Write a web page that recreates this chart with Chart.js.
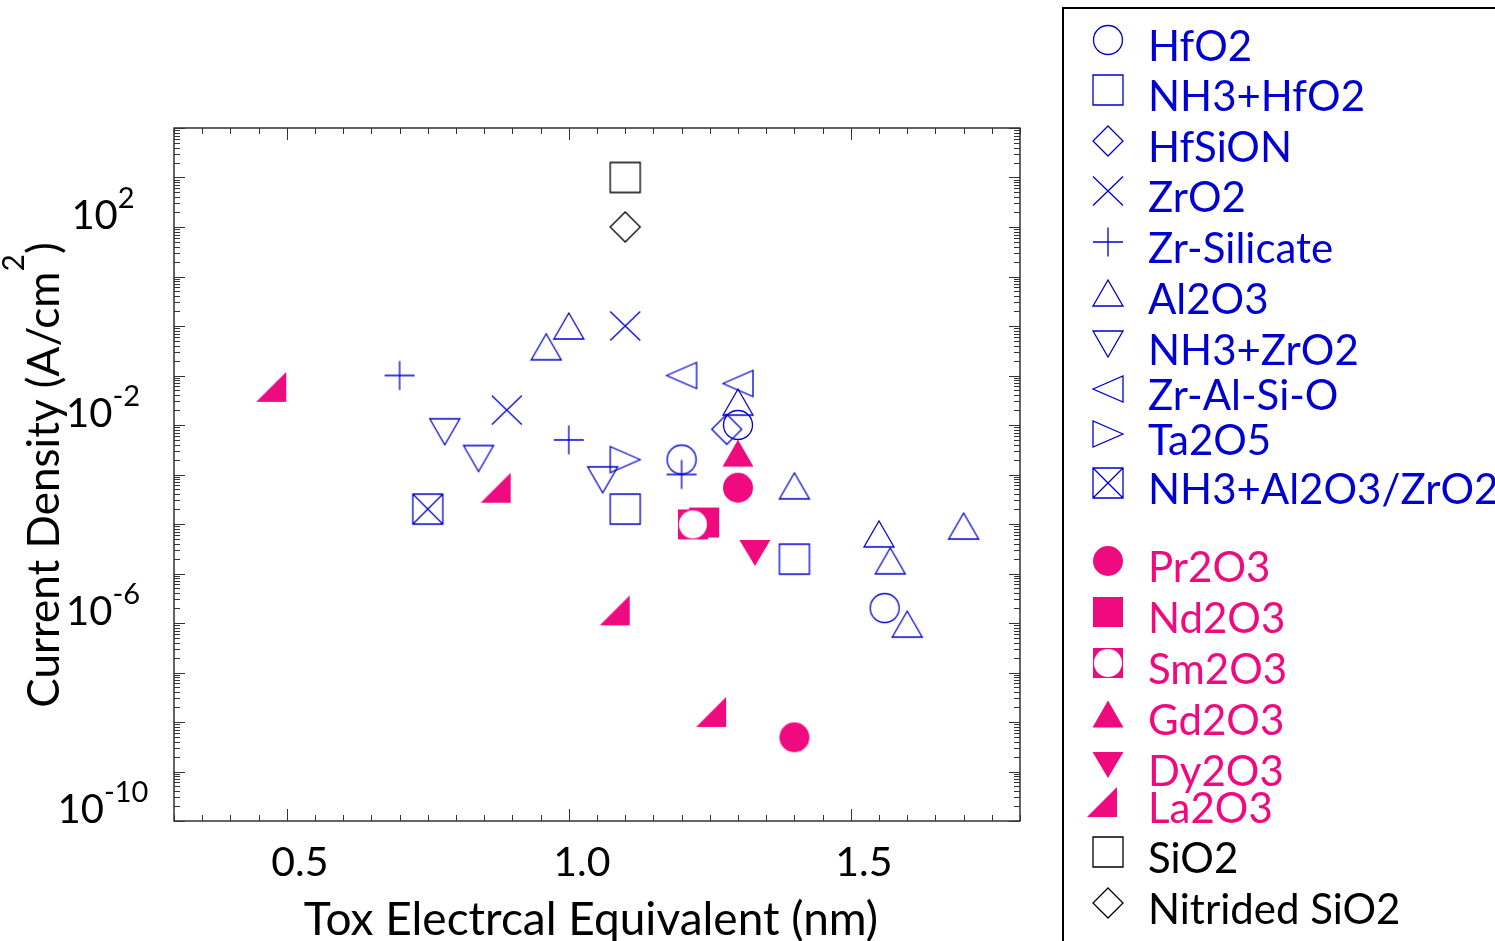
<!DOCTYPE html>
<html>
<head>
<meta charset="utf-8">
<title>Current density vs Tox</title>
<script src="https://cdn.jsdelivr.net/npm/chart.js@4.4.1/dist/chart.umd.min.js"></script>
<style>
  html, body { margin: 0; padding: 0; background: #fff; }
  #wrap { position: relative; width: 1495px; height: 941px; }
</style>
</head>
<body>
<div id="wrap"><canvas id="leakChart" width="1495" height="941"></canvas></div>
<script>
/* ---- data: x = Tox (nm), y = current density (A/cm2) ---- */
var hfo2X = [1.20, 1.30, 1.56];
var hfo2Y = [2.0e-3, 1.0e-2, 2.0e-6];
var nh3Hfo2X = [1.10, 1.40];
var nh3Hfo2Y = [2.0e-4, 1.95e-5];
var hfsionX = [1.28];
var hfsionY = [8.2e-3];
var zro2X = [0.89, 1.10];
var zro2Y = [2.0e-2, 1.0];
var zrSilX = [0.70, 1.00, 1.20];
var zrSilY = [0.1, 5.0e-3, 1.0e-3];
var al2o3X = [0.96, 1.00, 1.30, 1.40, 1.55, 1.57, 1.60, 1.70];
var al2o3Y = [0.38, 1.0, 2.9e-2, 5.9e-4, 6.3e-5, 1.8e-5, 9.5e-7, 9.1e-5];
var nh3Zro2X = [0.78, 0.84, 1.06];
var nh3Zro2Y = [7.3e-3, 2.1e-3, 7.8e-4];
var zrAlSiOX = [1.20, 1.30];
var zrAlSiOY = [0.1, 6.9e-2];
var ta2o5X = [1.10];
var ta2o5Y = [2.0e-3];
var nh3AlZrX = [0.75];
var nh3AlZrY = [2.0e-4];
var pr2o3X = [1.30, 1.40];
var pr2o3Y = [5.4e-4, 4.9e-9];
var nd2o3X = [1.24];
var nd2o3Y = [1.07e-4];
var sm2o3X = [1.22];
var sm2o3Y = [9.8e-5];
var gd2o3X = [1.30];
var gd2o3Y = [2.7e-3];
var dy2o3X = [1.33];
var dy2o3Y = [2.6e-5];
var la2o3X = [0.483, 0.881, 1.092, 1.263];
var la2o3Y = [5.9e-2, 5.4e-4, 1.8e-6, 1.6e-8];
var sio2X = [1.10];
var sio2Y = [1000];
var nsio2X = [1.10];
var nsio2Y = [100];

// axis ticks
var xMajorTicks = [0.5, 1.0, 1.5];
var xTickLabels = ['0.5', '1.0', '1.5'];
var yLabelExponents = [2, -2, -6, -10];

var BLUE = '#0000d0';
var PINK = '#f00a80';
var BLACK = '#000000';
var FONT = 'Lato, "Noto Sans", sans-serif';

// marker canvases, shape centred on the data point
function makeMarker(kind, color) {
    var c = document.createElement('canvas');
    c.width = 44; c.height = 44;
    var g = c.getContext('2d');
    g.translate(22, 22);
    g.strokeStyle = color;
    g.fillStyle = color;
    g.lineWidth = 1.3;
    g.lineJoin = 'miter';
    g.beginPath();
    switch (kind) {
        case 'circle': g.arc(0, 0, 14.5, 0, Math.PI * 2); g.stroke(); break;
        case 'dot': g.arc(0, 0, 15, 0, Math.PI * 2); g.fill(); break;
        case 'square': g.rect(-15, -15, 30, 30); g.stroke(); break;
        case 'block': g.rect(-15, -15, 30, 30); g.fill(); break;
        case 'diamond':
            g.moveTo(0, -15); g.lineTo(15, 0); g.lineTo(0, 15); g.lineTo(-15, 0); g.closePath(); g.stroke(); break;
        case 'cross':
            g.moveTo(-15, -14.5); g.lineTo(15, 14.5); g.moveTo(15, -14.5); g.lineTo(-15, 14.5); g.stroke(); break;
        case 'plus':
            g.moveTo(-15, 0); g.lineTo(15, 0); g.moveTo(0, -14.5); g.lineTo(0, 14.5); g.stroke(); break;
        case 'up':
            g.moveTo(0, -13); g.lineTo(15, 13); g.lineTo(-15, 13); g.closePath(); g.stroke(); break;
        case 'upFill':
            g.moveTo(0, -13.5); g.lineTo(15.5, 13.5); g.lineTo(-15.5, 13.5); g.closePath(); g.fill(); break;
        case 'down':
            g.moveTo(-15, -13); g.lineTo(15, -13); g.lineTo(0, 13); g.closePath(); g.stroke(); break;
        case 'downFill':
            g.moveTo(-15.5, -13); g.lineTo(15.5, -13); g.lineTo(0, 13); g.closePath(); g.fill(); break;
        case 'left':
            g.moveTo(-15, 0); g.lineTo(15, -13); g.lineTo(15, 13); g.closePath(); g.stroke(); break;
        case 'right':
            g.moveTo(15, 0); g.lineTo(-15, -13); g.lineTo(-15, 13); g.closePath(); g.stroke(); break;
        case 'boxX':
            g.rect(-15, -15, 30, 30);
            g.moveTo(-15, -15); g.lineTo(15, 15); g.moveTo(15, -15); g.lineTo(-15, 15); g.stroke(); break;
        case 'ringBlock':
            g.rect(-15, -15, 30, 30); g.fill();
            g.beginPath(); g.fillStyle = '#ffffff';
            g.arc(0, 0, 14, 0, Math.PI * 2); g.fill(); break;
        case 'wedge':
            // right-angled triangle, drawn a little left of its anchor
            g.moveTo(-21, 15); g.lineTo(9, 15); g.lineTo(9, -15); g.closePath(); g.fill(); break;
    }
    return c;
}

function pts(xs, ys) {
    return xs.map(function(x, i) { return { x: x, y: ys[i] }; });
}

var series = [
    { label: 'HfO2', xs: hfo2X, ys: hfo2Y, kind: 'circle', color: BLUE },
    { label: 'NH3+HfO2', xs: nh3Hfo2X, ys: nh3Hfo2Y, kind: 'square', color: BLUE },
    { label: 'HfSiON', xs: hfsionX, ys: hfsionY, kind: 'diamond', color: BLUE },
    { label: 'ZrO2', xs: zro2X, ys: zro2Y, kind: 'cross', color: BLUE },
    { label: 'Zr-Silicate', xs: zrSilX, ys: zrSilY, kind: 'plus', color: BLUE },
    { label: 'Al2O3', xs: al2o3X, ys: al2o3Y, kind: 'up', color: BLUE },
    { label: 'NH3+ZrO2', xs: nh3Zro2X, ys: nh3Zro2Y, kind: 'down', color: BLUE },
    { label: 'Zr-Al-Si-O', xs: zrAlSiOX, ys: zrAlSiOY, kind: 'left', color: BLUE },
    { label: 'Ta2O5', xs: ta2o5X, ys: ta2o5Y, kind: 'right', color: BLUE },
    { label: 'NH3+Al2O3/ZrO2', xs: nh3AlZrX, ys: nh3AlZrY, kind: 'boxX', color: BLUE },
    { label: 'Pr2O3', xs: pr2o3X, ys: pr2o3Y, kind: 'dot', color: PINK },
    { label: 'Nd2O3', xs: nd2o3X, ys: nd2o3Y, kind: 'block', color: PINK },
    { label: 'Sm2O3', xs: sm2o3X, ys: sm2o3Y, kind: 'ringBlock', color: PINK },
    { label: 'Gd2O3', xs: gd2o3X, ys: gd2o3Y, kind: 'upFill', color: PINK },
    { label: 'Dy2O3', xs: dy2o3X, ys: dy2o3Y, kind: 'downFill', color: PINK },
    { label: 'La2O3', xs: la2o3X, ys: la2o3Y, kind: 'wedge', color: PINK },
    { label: 'SiO2', xs: sio2X, ys: sio2Y, kind: 'square', color: BLACK },
    { label: 'Nitrided SiO2', xs: nsio2X, ys: nsio2Y, kind: 'diamond', color: BLACK }
];

// legend text baselines (layout only)
var legendBaselines = [61, 111, 162, 212, 263, 314, 365, 410, 455, 504, 582, 633, 684, 735, 786, 823, 873, 924];

series.forEach(function(s) { s.marker = makeMarker(s.kind, s.color); });

var datasets = series.map(function(s, i) {
    return {
        label: s.label,
        data: pts(s.xs, s.ys),
        pointStyle: s.marker,
        pointRadius: 15,
        pointHoverRadius: 15,
        showLine: false,
        // keep Sm2O3 drawn above Nd2O3
        order: s.label === 'Sm2O3' ? -1 : i
    };
});

function sup(ctx, base, exp, cx, baseline, bigPx, smallPx, rise) {
    ctx.font = bigPx + 'px ' + FONT;
    var w1 = ctx.measureText(base).width;
    ctx.font = smallPx + 'px ' + FONT;
    var w2 = ctx.measureText(exp).width;
    var left = cx - (w1 + w2) / 2;
    ctx.textAlign = 'left';
    ctx.font = bigPx + 'px ' + FONT;
    ctx.fillText(base, left, baseline);
    ctx.font = smallPx + 'px ' + FONT;
    ctx.fillText(exp, left + w1, baseline - rise);
}

var framePlugin = {
    id: 'framePlugin',
    afterDraw: function(chart) {
        var ctx = chart.ctx;
        var a = chart.chartArea;
        var xs = chart.scales.x, ys = chart.scales.y;
        ctx.save();
        ctx.strokeStyle = '#111';
        ctx.lineWidth = 1.3;
        ctx.strokeRect(a.left, a.top, a.right - a.left, a.bottom - a.top);

        ctx.lineWidth = 1;
        ctx.strokeStyle = '#333';
        ctx.beginPath();
        // x ticks every 0.05, longer at the labelled values
        for (var k = 6; k <= 36; k++) {
            var v = k * 0.05;
            var px = Math.round(xs.getPixelForValue(v)) + 0.5;
            var len = (k % 10 === 0) ? 12 : 6;
            ctx.moveTo(px, a.bottom); ctx.lineTo(px, a.bottom - len);
            ctx.moveTo(px, a.top); ctx.lineTo(px, a.top + len);
        }
        // y ticks: decades and 2..9 minors
        for (var e = -10; e <= 4; e++) {
            for (var m = 1; m <= 9; m++) {
                var val = m * Math.pow(10, e);
                if (val > 1e4 * 1.0001) break;
                var py = Math.round(ys.getPixelForValue(val)) + 0.5;
                var l = (m === 1) ? 11 : 6;
                ctx.moveTo(a.left, py); ctx.lineTo(a.left + l, py);
                ctx.moveTo(a.right, py); ctx.lineTo(a.right - l, py);
            }
        }
        ctx.stroke();

        ctx.fillStyle = '#000';
        ctx.textBaseline = 'alphabetic';
        // x tick labels
        ctx.font = '41px ' + FONT;
        ctx.textAlign = 'center';
        xMajorTicks.forEach(function(v, i) {
            ctx.fillText(xTickLabels[i], xs.getPixelForValue(v) + 13, 876);
        });
        // y tick labels 10^n
        yLabelExponents.forEach(function(p) {
            var py = ys.getPixelForValue(Math.pow(10, p));
            sup(ctx, '10', String(p), 103, py + 2, 40, 29, 21);
        });

        // axis titles
        ctx.font = '46px ' + FONT;
        ctx.textAlign = 'center';
        ctx.fillText('Tox Electrcal Equivalent (nm)', 591, 935);

        ctx.save();
        ctx.translate(59, 475);
        ctx.rotate(-Math.PI / 2);
        ctx.font = '44px ' + FONT;
        var t1 = 'Current Density (A/cm';
        var w1 = ctx.measureText(t1).width;
        ctx.font = '30px ' + FONT;
        var w2 = ctx.measureText('2').width;
        ctx.font = '44px ' + FONT;
        var w3 = ctx.measureText(')').width;
        var left = -(w1 + w2 + w3) / 2;
        ctx.textAlign = 'left';
        ctx.fillText(t1, left, 0);
        ctx.font = '30px ' + FONT;
        ctx.fillText('2', left + w1, -35);
        ctx.font = '44px ' + FONT;
        ctx.fillText(')', left + w1 + w2, 0);
        ctx.restore();

        // legend box (open to the right and bottom)
        ctx.strokeStyle = '#000';
        ctx.lineWidth = 2;
        ctx.beginPath();
        ctx.moveTo(1063, 941); ctx.lineTo(1063, 8); ctx.lineTo(1495, 8);
        ctx.stroke();

        ctx.font = '42px ' + FONT;
        ctx.textAlign = 'left';
        series.forEach(function(s, i) {
            var b = legendBaselines[i];
            ctx.drawImage(s.marker, 1108 - s.marker.width / 2, b - 21 - s.marker.height / 2);
            ctx.fillStyle = s.color;
            ctx.fillText(s.label, 1148, b);
        });
        ctx.restore();
    }
};

var chart = new Chart(document.getElementById('leakChart'), {
    type: 'scatter',
    data: { datasets: datasets },
    options: {
        responsive: false,
        animation: false,
        devicePixelRatio: 1,
        layout: { padding: { left: 174, right: 475, top: 128, bottom: 120 } },
        plugins: { legend: { display: false }, tooltip: { enabled: false } },
        scales: {
            x: { type: 'linear', min: 0.3, max: 1.8, display: false },
            y: { type: 'logarithmic', min: 1e-10, max: 1e4, display: false }
        }
    },
    plugins: [framePlugin]
});
</script>
</body>
</html>
